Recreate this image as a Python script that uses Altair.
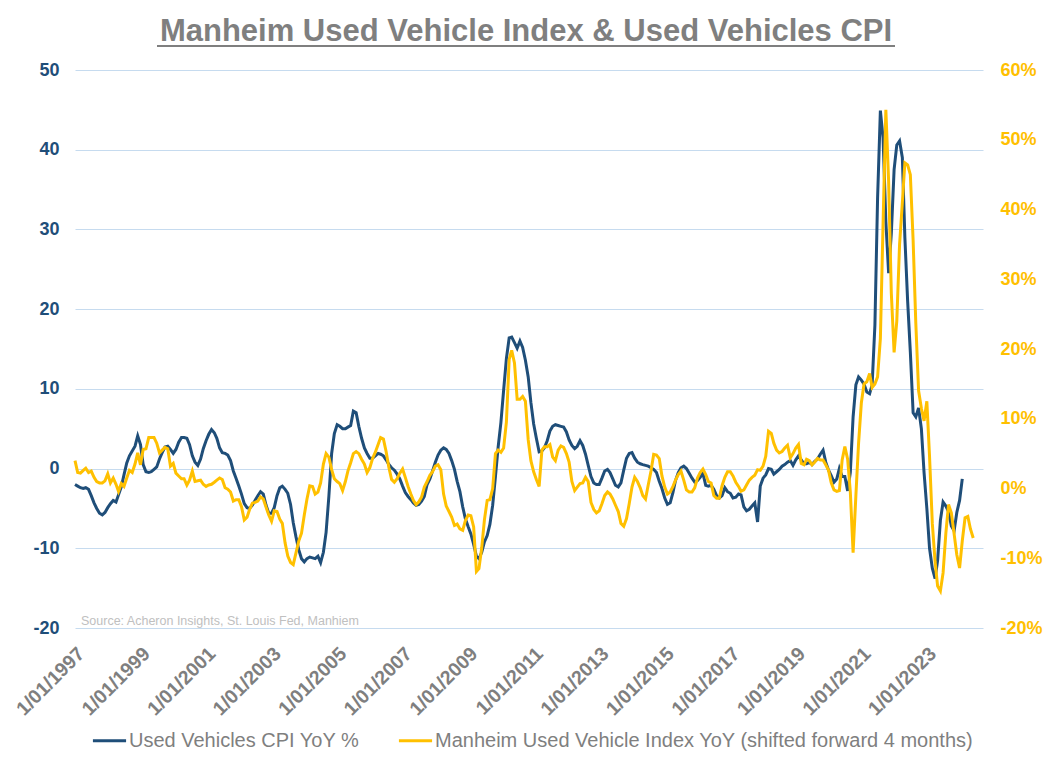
import altair as alt
import pandas as pd

START = "1996-11-01"

SERIES = [
    "Used Vehicles CPI YoY %",
    "Manheim Used Vehicle Index YoY (shifted forward 4 months)",
]
COLORS = ["#1f4e79", "#ffc000"]

# Used Vehicles CPI YoY % (left axis), monthly from Nov 1996
cpi_yoy = [
    -2.0, -2.2, -2.4, -2.5, -2.4, -2.6, -3.4, -4.3, -5.0, -5.6,
    -5.8, -5.5, -4.9, -4.4, -4.0, -4.2, -3.3, -2.3, -0.8, 0.7,
    1.6, 2.2, 2.8, 4.1, 3.0, 0.5, -0.4, -0.5, -0.4, -0.1,
    0.2, 1.2, 2.0, 2.7, 2.8, 2.4, 1.9, 2.4, 3.3, 3.9,
    3.9, 3.8, 3.0, 1.6, 0.8, 0.4, 1.2, 2.5, 3.5, 4.3,
    4.9, 4.5, 3.8, 2.6, 2.0, 1.9, 1.7, 1.0, -0.3, -1.2,
    -2.2, -3.2, -4.4, -4.9, -5.0, -4.6, -4.0, -3.4, -2.9, -3.2,
    -4.6, -5.6, -5.6, -4.9, -3.4, -2.4, -2.2, -2.6, -3.1, -4.5,
    -6.8, -8.6, -10.2, -11.3, -11.7, -11.3, -11.1, -11.2, -11.3, -11.0,
    -11.8, -10.5, -8.0, -3.5, 1.9, 4.4, 5.5, 5.3, 5.0, 5.0,
    5.2, 5.4, 7.2, 7.0, 5.3, 3.8, 2.6, 1.9, 1.3, 1.3,
    1.6, 1.9, 1.8, 1.6, 1.1, 0.5, 0.1, -0.2, -0.7, -1.3,
    -2.2, -3.0, -3.5, -3.9, -4.3, -4.6, -4.5, -4.1, -3.5, -2.0,
    -1.3, -0.3, 0.8, 1.7, 2.3, 2.6, 2.4, 1.9, 1.0, -0.1,
    -1.6, -2.9, -4.8, -6.3, -7.3, -8.2, -9.5, -11.0, -11.3, -10.5,
    -9.2, -8.4, -7.0, -4.6, -1.0, 2.7, 5.8, 9.8, 13.8, 16.4,
    16.5, 15.8, 15.1, 16.0, 15.2, 13.6, 11.5, 8.3, 5.6, 3.8,
    2.1, 2.2, 2.6, 3.5, 4.7, 5.3, 5.5, 5.4, 5.3, 5.2,
    4.6, 3.6, 2.9, 2.5, 2.8, 3.5, 2.9, 1.8, 0.4, -1.0,
    -1.8, -2.0, -2.0, -1.2, -0.3, -0.1, -0.5, -1.3, -2.1, -2.3,
    -1.8, -0.2, 1.3, 1.9, 2.0, 1.3, 0.8, 0.6, 0.5, 0.4,
    0.3, 0.1, -0.1, -0.5, -1.6, -2.5, -3.7, -4.5, -4.3, -3.0,
    -1.5, -0.5, 0.1, 0.3, 0.0, -0.6, -1.2, -1.7, -1.5, -1.1,
    -0.6, -2.1, -2.2, -2.1, -2.6, -3.4, -3.7, -3.4, -2.4, -2.9,
    -3.1, -3.7, -3.6, -3.2, -3.3, -4.8, -5.3, -5.1, -4.7, -4.3,
    -6.7, -2.2, -1.2, -0.8, 0.0, -0.1, -0.7, -0.4, -0.1, 0.3,
    0.5, 0.8, 1.0, 0.4, 1.1, 1.6, 1.1, 0.6, 0.6, 0.8,
    0.5, 0.9, 1.2, 1.8, 2.3, 0.8, -0.2, -0.9, -1.7, -1.3,
    0.0, -1.0, -1.0, -2.8, -0.5, 6.5, 10.5, 11.5, 11.1, 10.6,
    9.6, 9.4, 10.5, 18.0, 34.0, 44.9, 41.5, 31.0, 24.5, 29.5,
    37.5, 40.6, 41.1, 39.0, 29.0, 21.0, 14.6, 7.0, 6.5, 7.6,
    5.0, -0.5, -5.0, -10.0, -12.5, -13.8, -11.5, -6.5, -4.2, -4.7,
    -5.4, -7.2, -7.8, -5.5, -4.0, -1.3,
]

# Manheim Used Vehicle Index YoY % shifted forward 4 months (right axis)
manheim_yoy = [
    4.0, 2.3, 2.2, 2.6, 2.9, 2.3, 2.5, 1.6, 1.0, 0.8,
    0.8, 1.1, 2.1, 0.8, 1.5, 0.6, -0.4, 0.7, 0.3, 1.5,
    2.6, 2.3, 3.5, 5.1, 3.4, 5.6, 5.7, 7.3, 7.3, 7.3,
    6.5, 5.1, 5.5, 5.9, 5.7, 3.2, 3.6, 2.2, 1.8, 1.4,
    1.4, 0.5, 1.2, 2.5, 1.0, 1.1, 1.2, 0.6, 0.3, 0.5,
    0.6, 0.9, 1.2, 1.5, 1.3, 0.1, -0.1, -0.5, -1.8, -1.6,
    -1.6, -2.6, -4.5, -4.1, -3.0, -2.1, -2.0, -1.8, -1.2, -1.5,
    -2.7, -3.8, -4.7, -3.2, -3.3, -4.4, -5.0, -7.8, -9.7, -10.6,
    -10.9, -9.2, -7.5, -6.4, -3.8, -1.5, 0.4, 0.3, -0.8, -0.5,
    0.8, 3.5, 5.0, 4.5, 2.7, 1.4, 1.0, 0.7, -0.3, 1.0,
    2.5, 3.7, 5.0, 5.3, 5.0, 4.2, 3.5, 2.3, 3.0, 4.3,
    5.2, 6.3, 7.3, 7.1, 5.3, 3.0, 1.3, 0.9, 1.4, 2.2,
    2.8, 1.6, 0.3, -0.8, -1.7, -2.3, -1.9, -1.2, 0.2, 1.0,
    1.9, 2.4, 3.2, 3.4, 2.7, -0.8, -2.5, -3.3, -4.1, -5.3,
    -5.1, -5.8, -6.0, -4.6, -3.8, -3.9, -5.5, -11.9, -11.5, -8.5,
    -4.5, -1.7, -1.6, 0.0, 5.0, 5.5, 5.2, 5.8, 9.5, 18.5,
    19.8, 18.0, 12.8, 12.8, 13.2, 12.5, 7.0, 4.0, 2.4, 1.3,
    0.3, 5.5, 6.0, 6.0, 6.3, 4.5, 4.0, 5.5, 6.1, 5.9,
    5.0, 3.8, 1.0, -0.3, 0.2, 0.7, 0.8, 1.6, 1.0, -2.0,
    -3.0, -3.5, -3.2, -2.2, -1.0, -0.5, -0.8, -1.5, -2.4, -3.3,
    -5.0, -5.4, -4.3, -2.2, 0.2, 1.6, 1.0, 0.1, -1.0, -1.5,
    0.5, 2.5, 4.9, 4.8, 4.3, 1.8, 0.2, -0.8, -0.5, 0.3,
    1.2, 2.0, 2.5, 1.2, -0.2, -0.5, -0.5, 0.1, 1.5, 2.3,
    2.8, 2.0, 1.0, 0.8, -1.0, -1.4, -1.4, 0.4, 1.6, 2.4,
    2.4, 1.8, 0.9, 0.3, -0.4, -0.2, 0.5, 1.2, 1.6, 1.9,
    2.7, 2.6, 3.2, 4.6, 8.2, 7.9, 6.5, 5.5, 5.1, 5.3,
    5.8, 6.2, 4.4, 5.0, 5.8, 6.3, 3.6, 3.4, 4.2, 4.0,
    3.4, 3.8, 4.3, 4.1, 4.1, 3.4, 2.6, 0.8, -0.2, -0.4,
    -0.3, 4.1, 6.0, 4.2, -0.5, -9.2, -1.0, 6.5, 12.3, 15.0,
    15.3, 16.5, 14.5, 15.0, 16.0, 21.5, 38.0, 54.3, 44.0, 28.0,
    19.5, 24.0, 35.0, 41.0, 46.7, 46.4, 45.0, 35.6, 23.7, 14.0,
    11.5, 9.7, 12.5, 4.6, -5.0, -10.5, -14.0, -14.7, -12.1, -6.4,
    -2.3, -3.5, -6.5, -9.5, -11.4, -7.5, -4.2, -4.0, -5.8, -7.1,
]

left_ticks = [-20, -10, 0, 10, 20, 30, 40, 50]
right_ticks = [-20, -10, 0, 10, 20, 30, 40, 50, 60]
tick_years = list(range(1997, 2024, 2))

TITLE = "Manheim Used Vehicle Index & Used Vehicles CPI"
SOURCE = "Source: Acheron Insights, St. Louis Fed, Manhiem"

df_cpi = pd.DataFrame({
    "date": pd.date_range(START, periods=len(cpi_yoy), freq="MS"),
    "value": cpi_yoy,
    "series": SERIES[0],
})
df_man = pd.DataFrame({
    "date": pd.date_range(START, periods=len(manheim_yoy), freq="MS"),
    "value": manheim_yoy,
    "series": SERIES[1],
})

FONT = "Liberation Sans"
W, H = 908, 558

x_enc = alt.X(
    "date:T",
    scale=alt.Scale(domain=[alt.DateTime(year=1996, month=11, date=1),
                            alt.DateTime(year=2024, month=7, date=19)]),
    axis=alt.Axis(
        title=None,
        values=[alt.DateTime(year=y, month=1, date=1) for y in tick_years],
        format="%-m/%d/%Y",
        labelAngle=-45,
        labelFontSize=19.5,
        labelFontWeight="bold",
        labelColor="#7f7f7f",
        labelFont=FONT,
        labelPadding=16,
        labelOffset=-6,
        ticks=False,
        domain=False,
        grid=False,
        labelOverlap=False,
    ),
)

color_enc = alt.Color(
    "series:N",
    scale=alt.Scale(domain=SERIES, range=COLORS),
    legend=alt.Legend(
        title=None,
        orient="none",
        legendX=16,
        legendY=652,
        direction="horizontal",
        labelFontSize=20,
        labelColor="#7f7f7f",
        labelFont=FONT,
        labelLimit=0,
        symbolType="stroke",
        symbolSize=1100,
        symbolStrokeWidth=3,
        labelOffset=1,
        columnPadding=32,
    ),
)

cpi_line = alt.Chart(df_cpi).mark_line(strokeWidth=3).encode(
    x=x_enc,
    y=alt.Y(
        "value:Q",
        scale=alt.Scale(domain=[-20, 50], nice=False, zero=False),
        axis=alt.Axis(
            title=None,
            orient="left",
            values=left_ticks,
            labelExpr="datum.value + ''",
            labelFontSize=18,
            labelFontWeight="bold",
            labelColor="#1f4e79",
            labelFont=FONT,
            labelPadding=16,
            ticks=False,
            domain=False,
            grid=True,
            gridColor="#c6dbef",
            gridWidth=1,
        ),
    ),
    color=color_enc,
)

man_line = alt.Chart(df_man).mark_line(strokeWidth=3).encode(
    x=x_enc,
    y=alt.Y(
        "value:Q",
        scale=alt.Scale(domain=[-20, 60], nice=False, zero=False),
        axis=alt.Axis(
            title=None,
            orient="right",
            values=right_ticks,
            labelExpr="datum.value + '%'",
            labelFontSize=18,
            labelFontWeight="bold",
            labelColor="#ffc000",
            labelFont=FONT,
            labelPadding=17,
            ticks=False,
            domain=False,
            grid=False,
        ),
    ),
    color=color_enc,
)

source_text = alt.Chart(pd.DataFrame({"t": [SOURCE]})).mark_text(
    align="left", baseline="alphabetic", fontSize=12.5, color="#c0c0c0", font=FONT
).encode(text="t:N", x=alt.value(6), y=alt.value(555))

title_text = alt.Chart(pd.DataFrame({"t": [TITLE]})).mark_text(
    align="center", baseline="alphabetic", fontSize=31, fontWeight="bold",
    color="#7f7f7f", font=FONT
).encode(text="t:N", x=alt.value(451), y=alt.value(-29))

underline = alt.Chart(pd.DataFrame({"a": [0]})).mark_rule(
    color="#7f7f7f", strokeWidth=2
).encode(x=alt.value(82), x2=alt.value(820), y=alt.value(-24))

chart = (
    alt.layer(cpi_line, man_line, source_text, title_text, underline)
    .resolve_scale(y="independent")
    .properties(
        width=W,
        height=H,
        padding={"left": 67, "top": 62, "right": 65, "bottom": 130},
        autosize=alt.AutoSizeParams(type="none"),
    )
    .configure_view(stroke=None)
)

chart.save("out.html", embed_options={"renderer": "svg", "actions": False})
